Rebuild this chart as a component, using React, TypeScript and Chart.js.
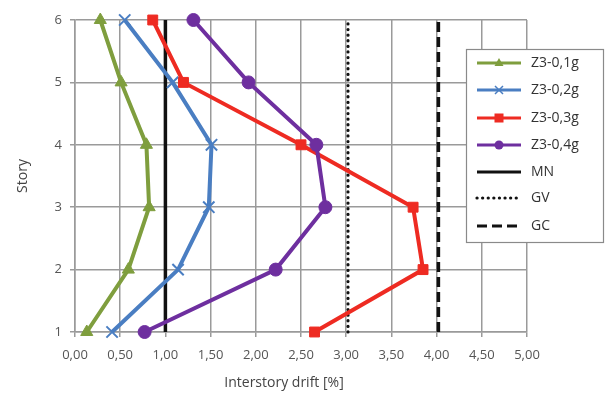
import React, { useEffect, useRef } from "react";
import { Chart, registerables } from "chart.js";

Chart.register(...registerables);

const stories = [1, 2, 3, 4, 5, 6];
const z01 = [0.13, 0.59, 0.82, 0.79, 0.51, 0.28];
const z02 = [0.41, 1.14, 1.48, 1.51, 1.08, 0.55];
const z03 = [2.65, 3.85, 3.74, 2.5, 1.2, 0.86];
const z04 = [0.77, 2.22, 2.77, 2.67, 1.92, 1.31];
const limitMN = 1.0;
const limitGV = 3.02;
const limitGC = 4.02;
const seriesLabels = ["Z3-0,1g", "Z3-0,2g", "Z3-0,3g", "Z3-0,4g", "MN", "GV", "GC"];
const xAxisTitle = "Interstory drift [%]";
const yAxisTitle = "Story";

const GREEN = "#7f9e3e";
const BLUE = "#4a7ec2";
const RED = "#ee2b22";
const PURPLE = "#6e2f9f";
const FONT = "'Open Sans', 'Noto Sans', sans-serif";

const pts = (xs: number[]) => xs.map((x, i) => ({ x, y: stories[i] }));
const vline = (x: number) => [
  { x, y: stories[0] },
  { x, y: stories[stories.length - 1] },
];

const legendPlugin = {
  id: "customLegend",
  afterDraw(chart: any) {
    const ctx = chart.ctx;
    // x axis title
    ctx.save();
    ctx.fillStyle = "#444444";
    ctx.font = `14px ${FONT}`;
    ctx.textAlign = "center";
    ctx.textBaseline = "middle";
    ctx.fillText(xAxisTitle, 284, 383);
    ctx.restore();

    const bx = 466, by = 49, bw = 137, bh = 193;
    ctx.save();
    ctx.fillStyle = "#ffffff";
    ctx.fillRect(bx, by, bw, bh);
    ctx.strokeStyle = "#8a8a8a";
    ctx.lineWidth = 1.2;
    ctx.strokeRect(bx + 0.5, by + 0.5, bw, bh);
    const ys = [63, 90, 118, 145, 172, 198, 226];
    chart.data.datasets.forEach((ds: any, i: number) => {
      const y = ys[i];
      const x0 = 477, x1 = 521, xm = 499;
      ctx.save();
      ctx.strokeStyle = ds.borderColor;
      ctx.lineWidth = i < 4 ? 3 : 3.2;
      ctx.setLineDash(ds.borderDash || []);
      ctx.lineCap = ds.borderCapStyle || "butt";
      ctx.beginPath();
      ctx.moveTo(x0, y);
      ctx.lineTo(x1, y);
      ctx.stroke();
      ctx.setLineDash([]);
      if (i < 4) {
        ctx.fillStyle = ds.borderColor;
        ctx.strokeStyle = ds.borderColor;
        const st = ds.pointStyle;
        if (st === "triangle") {
          ctx.beginPath();
          ctx.moveTo(xm, y - 5);
          ctx.lineTo(xm + 4.5, y + 3);
          ctx.lineTo(xm - 4.5, y + 3);
          ctx.closePath();
          ctx.fill();
        } else if (st === "rect") {
          ctx.fillRect(xm - 4.5, y - 4.5, 9, 9);
        } else if (st === "circle") {
          ctx.beginPath();
          ctx.arc(xm, y, 4.5, 0, Math.PI * 2);
          ctx.fill();
        } else {
          ctx.lineWidth = 1.5;
          ctx.beginPath();
          ctx.moveTo(xm - 4, y - 4);
          ctx.lineTo(xm + 4, y + 4);
          ctx.moveTo(xm + 4, y - 4);
          ctx.lineTo(xm - 4, y + 4);
          ctx.stroke();
        }
      }
      ctx.restore();
      ctx.fillStyle = "#333333";
      ctx.font = `14px ${FONT}`;
      ctx.textBaseline = "middle";
      ctx.textAlign = "left";
      ctx.fillText(ds.label, 531, y);
    });
    ctx.restore();
  },
};

export default function App() {
  const ref = useRef<HTMLCanvasElement>(null);
  useEffect(() => {
    if (!ref.current) return;
    const series = [z01, z02, z03, z04];
    const colors = [GREEN, BLUE, RED, PURPLE];
    const styles = ["triangle", "crossRot", "rect", "circle"];
    const radii = [7, 8, 7, 6.5];
    const datasets: any[] = series.map((s, i) => ({
      label: seriesLabels[i],
      data: pts(s),
      showLine: true,
      borderColor: colors[i],
      backgroundColor: colors[i],
      borderWidth: 4,
      pointStyle: styles[i],
      pointRadius: radii[i],
      pointBorderWidth: i === 1 ? 2 : 1,
      pointBorderColor: colors[i],
      pointBackgroundColor: colors[i],
      clip: false,
      order: 4 - i,
    }));
    datasets.push({
      label: seriesLabels[4],
      data: vline(limitMN),
      showLine: true,
      borderColor: "#111111",
      borderWidth: 3.5,
      pointRadius: 0,
      clip: false,
      order: 10,
    });
    datasets.push({
      label: seriesLabels[5],
      data: vline(limitGV),
      showLine: true,
      borderColor: "#111111",
      borderWidth: 3.2,
      borderDash: [0.1, 5.5],
      borderCapStyle: "round",
      pointRadius: 0,
      clip: false,
      order: 10,
    });
    datasets.push({
      label: seriesLabels[6],
      data: vline(limitGC),
      showLine: true,
      borderColor: "#111111",
      borderWidth: 3.5,
      borderDash: [10, 5],
      pointRadius: 0,
      clip: false,
      order: 10,
    });
    const chart = new Chart(ref.current, {
      type: "scatter",
      data: { datasets },
      options: {
        animation: false,
        responsive: false,
        maintainAspectRatio: false,
        layout: { padding: { left: 8, top: 20, right: 82, bottom: 0 } },
        plugins: {
          legend: { display: false },
          tooltip: { enabled: false },
        },
        scales: {
          x: {
            type: "linear",
            min: 0,
            max: 5,
            ticks: {
              stepSize: 0.5,
              color: "#555555",
              font: { family: FONT, size: 13 },
              padding: 10,
              callback: (v: any) => Number(v).toFixed(2).replace(".", ","),
            },
            grid: { color: "#9a9a9a", lineWidth: 1.5, tickLength: 5 },
            border: { color: "#9a9a9a", width: 1.5 },
            title: { display: false },
            afterFit: (s: any) => {
              s.height = 62;
            },
          },
          y: {
            type: "linear",
            min: 1,
            max: 6,
            ticks: {
              stepSize: 1,
              color: "#555555",
              font: { family: FONT, size: 13 },
              padding: 8,
            },
            grid: { color: "#9a9a9a", lineWidth: 1.5, tickLength: 5 },
            border: { color: "#9a9a9a", width: 1.5 },
            title: {
              display: true,
              text: yAxisTitle,
              color: "#444444",
              font: { family: FONT, size: 14 },
              padding: { top: 7, bottom: 0 },
            },
            afterFit: (s: any) => {
              s.width = 67;
            },
          },
        },
      },
      plugins: [legendPlugin],
    });
    return () => chart.destroy();
  }, []);
  return (
    <div style={{ position: "fixed", left: 0, top: 0, width: 609, height: 394, background: "#fff" }}>
      <canvas ref={ref} width={609} height={394} style={{ width: 609, height: 394 }} />
    </div>
  );
}
